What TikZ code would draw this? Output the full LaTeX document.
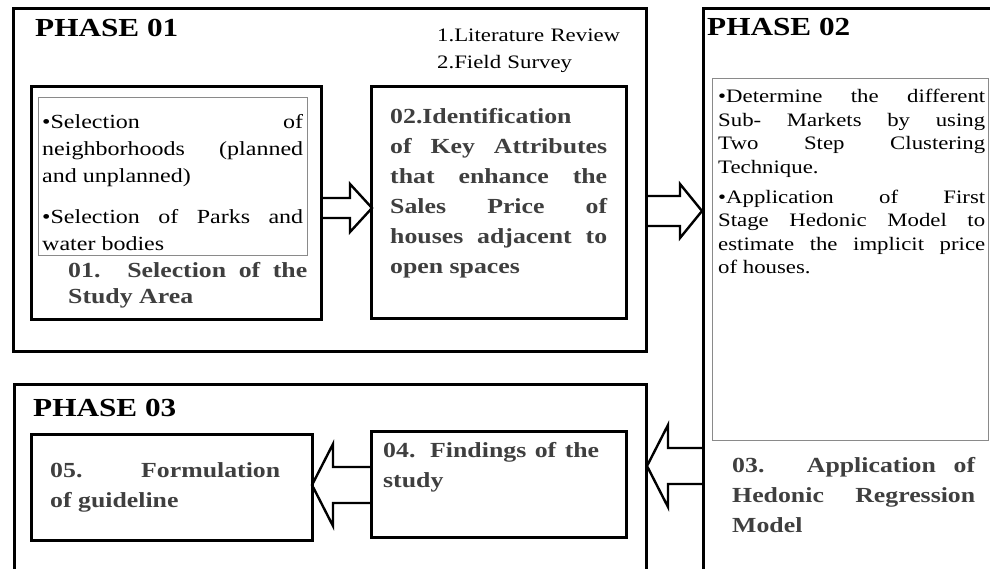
\documentclass[tikz,border=0pt]{standalone}
\usepackage{fontspec}
\setmainfont{Liberation Serif}[FakeStretch=1.2]
\usepackage{tikz}
\usetikzlibrary{calc,positioning}
\definecolor{textgrey}{HTML}{3F3F3F}
\definecolor{boxgrey}{HTML}{8A8A8A}
\newcommand{\fatarrow}[5]{%
  \coordinate (fa-tail) at (#1|-#2);
  \draw[fat] ($(fa-tail)+(0,#3)$) -- ($(#2)+({-1*(#5)},#3)$) -- ($(#2)+({-1*(#5)},#4)$)
    -- (#2) -- ($(#2)+({-1*(#5)},{-1*(#4)})$) -- ($(#2)+({-1*(#5)},{-1*(#3)})$) -- ($(fa-tail)+(0,{-1*(#3)})$);}

\begin{document}
\begin{tikzpicture}[x=1pt,y=-1pt,
    frame/.style={draw,line width=2.6pt,inner sep=0pt,anchor=north west},
    listbox/.style={draw=boxgrey,line width=1pt,inner sep=0pt,anchor=north west},
    phase/.style={font=\fontsize{26}{30}\selectfont\bfseries,inner sep=0pt,anchor=base west},
    bodytext/.style={font=\fontsize{19}{23.5}\selectfont,inner sep=0pt,anchor=base west,align=justify},
    titletext/.style={font=\fontsize{21.5}{30}\selectfont\bfseries,text=textgrey,inner sep=0pt,anchor=base west,align=justify},
    fat/.style={draw,line width=2.4pt,line join=miter}]
          \clip (0,0) rectangle (990,569);

          \node[frame,minimum width=633,minimum height=343] (phase1) at (12,7) {};
          \node[frame,minimum width=300,minimum height=600] (phase2) at (702,7) {};
          \node[frame,minimum width=632,minimum height=300] (phase3) at (13,383) {};

          \node[phase] (title1) at (35,37) {PHASE 01};
          \node[phase] (title2) at (707,36) {PHASE 02};
          \node[phase] (title3) at (33,416) {PHASE 03};

          \node[frame,minimum width=290,minimum height=233] (stage1) at (30,85) {};
          \node[listbox,minimum width=269,minimum height=158] (list1) at (38,97) {};
          \node[frame,minimum width=255,minimum height=232] (stage2) at (370,85) {};
          \node[listbox,minimum width=276,minimum height=362] (list2) at (712,78) {};
          \node[frame,minimum width=281,minimum height=106] (stage5) at (30,433) {};
          \node[frame,minimum width=255,minimum height=106] (stage4) at (370,430) {};

          \node[bodytext,text width=200,align=left,font=\fontsize{19}{27}\selectfont] (sources) at (437,42) {1.Literature Review\\2.Field Survey};
          \node[bodytext,text width=261,font=\fontsize{20}{27}\selectfont] (list1text) at (42,129) {•Selection of\linebreak neighborhoods (planned\linebreak and unplanned)\par\vspace{14pt}•Selection of Parks and\linebreak water bodies};
          \node[titletext,text width=239,font=\fontsize{21.5}{26}\selectfont\bfseries] (stage1text) at (68,277) {01. Selection of the\linebreak Study Area};
          \node[titletext,text width=217] (stage2text) at (390,124) {02.Identification\linebreak of Key Attributes\linebreak that enhance the\linebreak Sales Price of\linebreak houses adjacent to\linebreak open spaces};
          \node[bodytext,text width=267] (list2text) at (718,103) {•Determine the different\linebreak Sub- Markets by using\linebreak Two Step Clustering\linebreak Technique.\par\vspace{6.5pt}•Application of First\linebreak Stage Hedonic Model to\linebreak estimate the implicit price\linebreak of houses.};
          \node[titletext,text width=243] (stage3text) at (732,472) {03. Application of\linebreak Hedonic Regression\linebreak Model};
          \node[titletext,text width=216] (stage4text) at (383,457) {04. Findings of the\linebreak study};
          \node[titletext,text width=230] (stage5text) at (50,477) {05. Formulation\linebreak of guideline};

          \coordinate (tip1) at (372,208);
          \coordinate (tip2) at (702,211);
          \coordinate (tip3) at (647,466);
          \coordinate (tip4) at (312,485);
          \fatarrow{stage1.east}{tip1}{10}{24}{22}
          \fatarrow{phase1.east}{tip2}{15}{27}{22}
          \fatarrow{phase2.west}{tip3}{18}{41}{-21}
          \fatarrow{stage4.west}{tip4}{18}{41}{-21}
        \end{tikzpicture}
\end{document}
